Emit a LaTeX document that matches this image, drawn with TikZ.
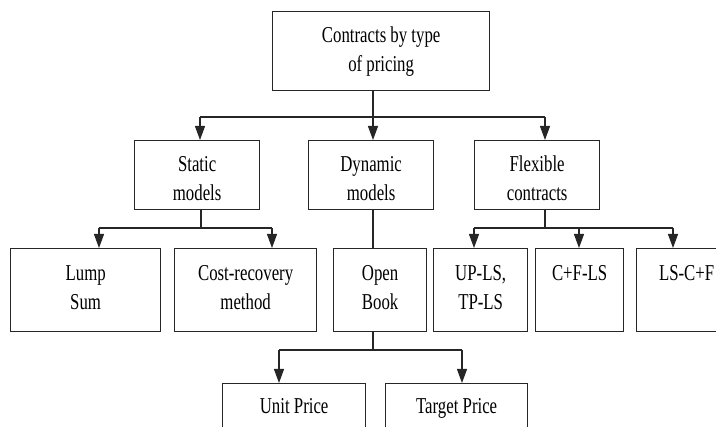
\documentclass[tikz,border=0pt]{standalone}
\usepackage{fontspec}
\setmainfont[FakeStretch=0.74]{Liberation Serif}
\usetikzlibrary{arrows.meta}
\begin{document}
\begin{tikzpicture}[x=1pt,y=-1pt,
  box/.style={draw=black!85, line width=1.3pt, anchor=north west, inner sep=0pt},
  txt/.style={anchor=north, inner sep=0pt, align=center, font=\fontsize{22.7}{29}\selectfont},
  conn/.style={draw=black!85, line width=1.2pt},
  arr/.style={conn, -{Triangle[length=14pt,width=10pt]}}]
\useasboundingbox (0,0) rectangle (716,427);
\clip (0,0) rectangle (716,427);
% boxes
\node[box, minimum width=217pt, minimum height=79pt] (top) at (272,11) {};
\node[box, minimum width=125pt, minimum height=69pt] (static) at (134,140) {};
\node[box, minimum width=125pt, minimum height=69pt] (dynamic) at (308,140) {};
\node[box, minimum width=125pt, minimum height=69pt] (flex) at (474,140) {};
\node[box, minimum width=150pt, minimum height=83pt] (lump) at (10,248) {};
\node[box, minimum width=142pt, minimum height=83pt] (cost) at (174,248) {};
\node[box, minimum width=93pt, minimum height=83pt] (open) at (333,248) {};
\node[box, minimum width=94pt, minimum height=83pt] (upls) at (433,248) {};
\node[box, minimum width=88pt, minimum height=83pt] (cfls) at (535,248) {};
\node[box, minimum width=100pt, minimum height=83pt] (lscf) at (636,248) {};
\node[box, minimum width=143pt, minimum height=60pt] (unit) at (222,383) {};
\node[box, minimum width=142pt, minimum height=60pt] (target) at (385,383) {};
% texts
\node[txt] (topT) at ([yshift=-11.2pt]top.north) {\strut Contracts by type\\\strut of pricing};
\node[txt] (staticT) at ([yshift=-11.2pt]static.north) {\strut Static\\\strut models};
\node[txt] (dynamicT) at ([yshift=-11.2pt]dynamic.north) {\strut Dynamic\\\strut models};
\node[txt] (flexT) at ([yshift=-11.2pt]flex.north) {\strut Flexible\\\strut contracts};
\node[txt] (lumpT) at ([yshift=-12pt]lump.north) {\strut Lump\\\strut Sum};
\node[txt] (costT) at ([yshift=-12pt]cost.north) {\strut Cost-recovery\\\strut method};
\node[txt] (openT) at ([yshift=-12pt]open.north) {\strut Open\\\strut Book};
\node[txt] (uplsT) at ([yshift=-12pt]upls.north) {\strut UP-LS,\\\strut TP-LS};
\node[txt] (cflsT) at ([yshift=-12pt]cfls.north) {\strut C+F-LS};
\node[txt] (lscfT) at ([yshift=-12pt]lscf.north) {\strut LS-C+F};
\node[txt] (unitT) at ([yshift=-10.5pt]unit.north) {\strut Unit Price};
\node[txt] (targetT) at ([yshift=-10.5pt]target.north) {\strut Target Price};
% level 1 connectors
\coordinate (j0) at (373,117);
\coordinate (a1) at (200,117);
\coordinate (a3) at (545,117);
\draw[conn] (j0 |- top.south) -- (j0);
\draw[conn] (a1) -- (a3);
\draw[arr] (a1) -- (a1 |- static.north);
\draw[arr] (j0) -- (j0 |- dynamic.north);
\draw[arr] (a3) -- (a3 |- flex.north);
% static children
\coordinate (s0) at (201,228);
\coordinate (s1) at (99,228);
\coordinate (s2) at (272,228);
\draw[conn] (s0 |- static.south) -- (s0);
\draw[conn] (s1) -- (s2);
\draw[arr] (s1) -- (s1 |- lump.north);
\draw[arr] (s2) -- (s2 |- cost.north);
% dynamic child
\coordinate (d0) at (373,209);
\draw[conn] (d0 |- dynamic.south) -- (d0 |- open.north);
% flexible children
\coordinate (f0) at (545,228);
\coordinate (f1) at (474,228);
\coordinate (f2) at (579,228);
\coordinate (f3) at (673,228);
\draw[conn] (f0 |- flex.south) -- (f0);
\draw[conn] (f1) -- (f3);
\draw[arr] (f1) -- (f1 |- upls.north);
\draw[arr] (f2) -- (f2 |- cfls.north);
\draw[arr] (f3) -- (f3 |- lscf.north);
% open book children
\coordinate (o0) at (373,350);
\coordinate (o1) at (279,350);
\coordinate (o2) at (462,350);
\draw[conn] (o0 |- open.south) -- (o0);
\draw[conn] (o1) -- (o2);
\draw[arr] (o1) -- (o1 |- unit.north);
\draw[arr] (o2) -- (o2 |- target.north);
\end{tikzpicture}
\end{document}
